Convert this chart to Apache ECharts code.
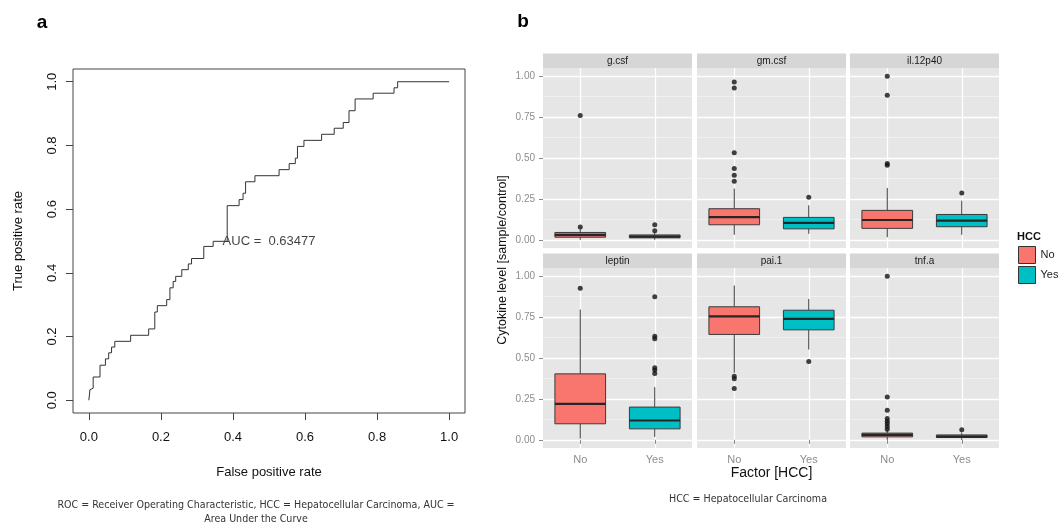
<!DOCTYPE html>
<html>
<head>
<meta charset="utf-8">
<script src="https://cdn.jsdelivr.net/npm/echarts@6/dist/echarts.min.js"></script>
<style>
  html, body { margin: 0; padding: 0; background: #fff; }
  #main { width: 1062px; height: 525px; }
</style>
</head>
<body>
<div id="main"></div>
<script>
// panel a: ROC staircase corners (false / true positive rate)
const fpr = [0, 0.003, 0.006, 0.012, 0.031, 0.046, 0.055, 0.063, 0.072, 0.116, 0.166, 0.183, 0.19, 0.216, 0.225,
  0.234, 0.241, 0.258, 0.276, 0.285, 0.319, 0.345, 0.384, 0.417, 0.428, 0.435, 0.461, 0.528, 0.556, 0.573,
  0.579, 0.597, 0.646, 0.681, 0.706, 0.722, 0.739, 0.789, 0.847, 0.857, 1.0];
const tpr = [0, 0.033, 0.038, 0.073, 0.11, 0.13, 0.149, 0.167, 0.185, 0.204, 0.224, 0.277, 0.297, 0.316, 0.353,
  0.373, 0.389, 0.41, 0.428, 0.445, 0.483, 0.499, 0.611, 0.63, 0.65, 0.686, 0.705, 0.724, 0.743, 0.76,
  0.797, 0.816, 0.835, 0.854, 0.872, 0.909, 0.946, 0.964, 0.981, 1.0, 1.0];
const rocTicks = [0, 0.2, 0.4, 0.6, 0.8, 1];
const aucPos = [0.5, 0.5];
const aucText = 'AUC =  0.63477';

// panel b: cytokine boxplots
const facets = ['g.csf', 'gm.csf', 'il.12p40', 'leptin', 'pai.1', 'tnf.a'];
const groups = ['No', 'Yes'];
// [lower whisker, Q1, median, Q3, upper whisker]
const boxNo = [
  [0.0, 0.016, 0.03, 0.045, 0.065],
  [0.031, 0.092, 0.139, 0.19, 0.313],
  [0.016, 0.07, 0.121, 0.18, 0.317],
  [0.008, 0.098, 0.22, 0.403, 0.796],
  [0.41, 0.644, 0.754, 0.813, 0.943],
  [0.0, 0.018, 0.03, 0.041, 0.06]
];
const boxYes = [
  [0.0, 0.012, 0.02, 0.03, 0.045],
  [0.037, 0.067, 0.104, 0.137, 0.211],
  [0.031, 0.08, 0.117, 0.155, 0.239],
  [0.018, 0.067, 0.118, 0.2, 0.322],
  [0.552, 0.672, 0.739, 0.792, 0.861],
  [0.0, 0.014, 0.02, 0.03, 0.045]
];
const outNo = [
  [0.759, 0.078],
  [0.965, 0.928, 0.532, 0.436, 0.395, 0.358],
  [1.0, 0.883, 0.466, 0.456],
  [0.927],
  [0.389, 0.373, 0.314],
  [1.0, 0.261, 0.181, 0.13, 0.114, 0.098, 0.081, 0.065]
];
const outYes = [
  [0.092, 0.055],
  [0.26],
  [0.286],
  [0.874, 0.633, 0.617, 0.44, 0.426, 0.405],
  [0.479],
  [0.061]
];
const yTicks = [0, 0.25, 0.5, 0.75, 1];
const yMinor = [0.125, 0.375, 0.625, 0.875];

const chart = echarts.init(document.getElementById('main'));
const font = "'Liberation Sans', Arial, sans-serif";
const noteFont = "'Liberation Sans Narrow', 'DejaVu Sans Condensed', sans-serif";
const fillColors = ['#F8766D', '#00BFC4'];
const panelLeft = [543, 697, 850];
const rowTop = [68, 268];
const panelW = 149, panelH = 180, stripH = 14.5;

const grids = [{
  left: 73, top: 69, width: 392, height: 344, show: true,
  borderColor: '#444', borderWidth: 1, backgroundColor: 'transparent', outerBoundsMode: 'none'
}];
const xAxes = [{
  gridIndex: 0, type: 'value', min: -0.044, max: 1.044,
  name: 'False positive rate', nameLocation: 'middle', nameGap: 53,
  nameTextStyle: {fontFamily: font, fontSize: 13, color: '#111'},
  axisLine: {show: false, onZero: false},
  axisTick: {show: true, customValues: rocTicks, length: 7, lineStyle: {color: '#444'}},
  axisLabel: {customValues: rocTicks, formatter: v => v.toFixed(1), margin: 18,
    fontFamily: font, fontSize: 13, color: '#111'},
  splitLine: {show: false}
}];
const yAxes = [{
  gridIndex: 0, type: 'value', min: -0.04, max: 1.04,
  name: 'True positive rate', nameLocation: 'middle', nameGap: 48,
  nameTextStyle: {fontFamily: font, fontSize: 13, color: '#111'},
  axisLine: {show: false, onZero: false},
  axisTick: {show: true, customValues: rocTicks, length: 7, lineStyle: {color: '#444'}},
  axisLabel: {customValues: rocTicks, formatter: v => v.toFixed(1), margin: 14, rotate: 90,
    fontFamily: font, fontSize: 13, color: '#111'},
  splitLine: {show: false}
}];

const series = [{
  type: 'line', xAxisIndex: 0, yAxisIndex: 0, step: 'end', symbol: 'none',
  data: fpr.map((x, i) => [x, tpr[i]]),
  lineStyle: {color: '#333', width: 1}
}, {
  type: 'scatter', xAxisIndex: 0, yAxisIndex: 0, silent: true,
  data: [aucPos], symbolSize: 0.1, itemStyle: {color: 'rgba(0,0,0,0)'},
  label: {show: true, position: 'inside', formatter: aucText,
    fontFamily: font, fontSize: 13, color: '#111'}
}];

function renderBox(params, api) {
  const cat = api.value(0);
  const half = api.size([1, 0])[0] * 0.34;
  const x = api.coord([cat, api.value(3)])[0];
  const y = k => api.coord([cat, api.value(k)])[1];
  const yLo = y(1), yQ1 = y(2), yMed = y(3), yQ3 = y(4), yHi = y(5);
  const stroke = '#3a3a3a';
  return {
    type: 'group',
    children: [
      {type: 'line', shape: {x1: x, y1: yLo, x2: x, y2: yQ1}, style: {stroke: stroke, lineWidth: 1}},
      {type: 'line', shape: {x1: x, y1: yQ3, x2: x, y2: yHi}, style: {stroke: stroke, lineWidth: 1}},
      {type: 'rect', shape: {x: x - half, y: yQ3, width: 2 * half, height: yQ1 - yQ3},
        style: {fill: api.visual('color'), stroke: stroke, lineWidth: 1}},
      {type: 'line', shape: {x1: x - half, y1: yMed, x2: x + half, y2: yMed},
        style: {stroke: '#262626', lineWidth: 2.2}}
    ]
  };
}

const graphic = [];
facets.forEach((f, i) => {
  const row = Math.floor(i / 3), col = i % 3;
  const gi = grids.length;
  grids.push({
    left: panelLeft[col], top: rowTop[row], width: panelW, height: panelH,
    show: true, backgroundColor: '#E6E6E6', borderWidth: 0, outerBoundsMode: 'none'
  });
  xAxes.push({
    gridIndex: gi, type: 'category', data: groups,
    name: i === 4 ? 'Factor [HCC]' : '', nameLocation: 'middle', nameGap: 17,
    nameTextStyle: {fontFamily: font, fontSize: 14, color: '#111'},
    axisLine: {show: false},
    axisTick: {show: row === 1, alignWithLabel: true, length: 4, lineStyle: {color: '#888'}},
    axisLabel: {show: row === 1, margin: 6, fontFamily: font, fontSize: 11, color: '#8c8c8c'},
    splitLine: {show: true, alignWithLabel: true, lineStyle: {color: '#fff', width: 1.3}}
  });
  const yi = yAxes.length;
  yAxes.push({
    gridIndex: gi, type: 'value', min: -0.05, max: 1.05,
    axisLine: {show: false},
    axisTick: {show: col === 0, customValues: yTicks, length: 4, lineStyle: {color: '#888'}},
    axisLabel: {show: col === 0, customValues: yTicks, formatter: v => v.toFixed(2), margin: 8,
      fontFamily: font, fontSize: 10, color: '#8c8c8c'},
    splitLine: {show: true, lineStyle: {color: '#fff', width: 1.3}}
  });
  yAxes.push({
    gridIndex: gi, type: 'value', min: -0.05, max: 1.05,
    axisLine: {show: false}, axisLabel: {show: false},
    axisTick: {show: false, customValues: yMinor},
    splitLine: {show: true, lineStyle: {color: '#F2F2F2', width: 0.8}}
  });
  [boxNo, boxYes].forEach((b, g) => {
    series.push({
      type: 'custom', name: groups[g], xAxisIndex: gi, yAxisIndex: yi,
      renderItem: renderBox, itemStyle: {color: fillColors[g]},
      encode: {x: 0, y: [1, 2, 3, 4, 5]},
      data: [[g].concat(b[i])], z: 3
    });
  });
  series.push({
    type: 'scatter', xAxisIndex: gi, yAxisIndex: yi, symbolSize: 5, z: 4,
    itemStyle: {color: '#111'},
    data: outNo[i].map(v => [0, v]).concat(outYes[i].map(v => [1, v]))
  });
  graphic.push({
    type: 'rect', silent: true,
    shape: {x: panelLeft[col], y: rowTop[row] - stripH, width: panelW, height: stripH},
    style: {fill: '#D6D6D6'}
  });
  graphic.push({
    type: 'text', silent: true,
    x: panelLeft[col] + panelW / 2, y: rowTop[row] - stripH / 2,
    style: {text: f, font: '10px ' + font, fill: '#1a1a1a', align: 'center', verticalAlign: 'middle'}
  });
});

graphic.push(
  {type: 'text', x: 42, y: 23, style: {text: 'a', font: 'bold 19px ' + font, fill: '#000', align: 'center', verticalAlign: 'middle'}},
  {type: 'text', x: 523, y: 22, style: {text: 'b', font: 'bold 19px ' + font, fill: '#000', align: 'center', verticalAlign: 'middle'}},
  {type: 'text', x: 503, y: 260, rotation: Math.PI / 2,
    style: {text: 'Cytokine level [sample/control]', font: '12.5px ' + font, fill: '#111', align: 'center', verticalAlign: 'middle'}},
  {type: 'text', x: 1017, y: 237, style: {text: 'HCC', font: 'bold 11px ' + font, fill: '#111', align: 'left', verticalAlign: 'middle'}},
  {type: 'text', x: 256, y: 505, style: {text: 'ROC = Receiver Operating Characteristic, HCC = Hepatocellular Carcinoma, AUC =',
    font: '10.6px ' + noteFont, fill: '#333', align: 'center', verticalAlign: 'middle'}},
  {type: 'text', x: 256, y: 519, style: {text: 'Area Under the Curve',
    font: '10.6px ' + noteFont, fill: '#333', align: 'center', verticalAlign: 'middle'}},
  {type: 'text', x: 748, y: 499, style: {text: 'HCC = Hepatocellular Carcinoma',
    font: '10.6px ' + noteFont, fill: '#333', align: 'center', verticalAlign: 'middle'}}
);

chart.setOption({
  animation: false,
  backgroundColor: '#fff',
  grid: grids,
  xAxis: xAxes,
  yAxis: yAxes,
  legend: {
    orient: 'vertical', left: 1018, top: 246, padding: 0, itemWidth: 17, itemHeight: 17, itemGap: 2,
    selectedMode: false,
    data: groups.map((g, k) => ({name: g, icon: 'rect',
      itemStyle: {color: fillColors[k], borderColor: '#333', borderWidth: 1}})),
    textStyle: {fontFamily: font, fontSize: 11, color: '#222'}
  },
  graphic: graphic,
  series: series
});
</script>
</body>
</html>
